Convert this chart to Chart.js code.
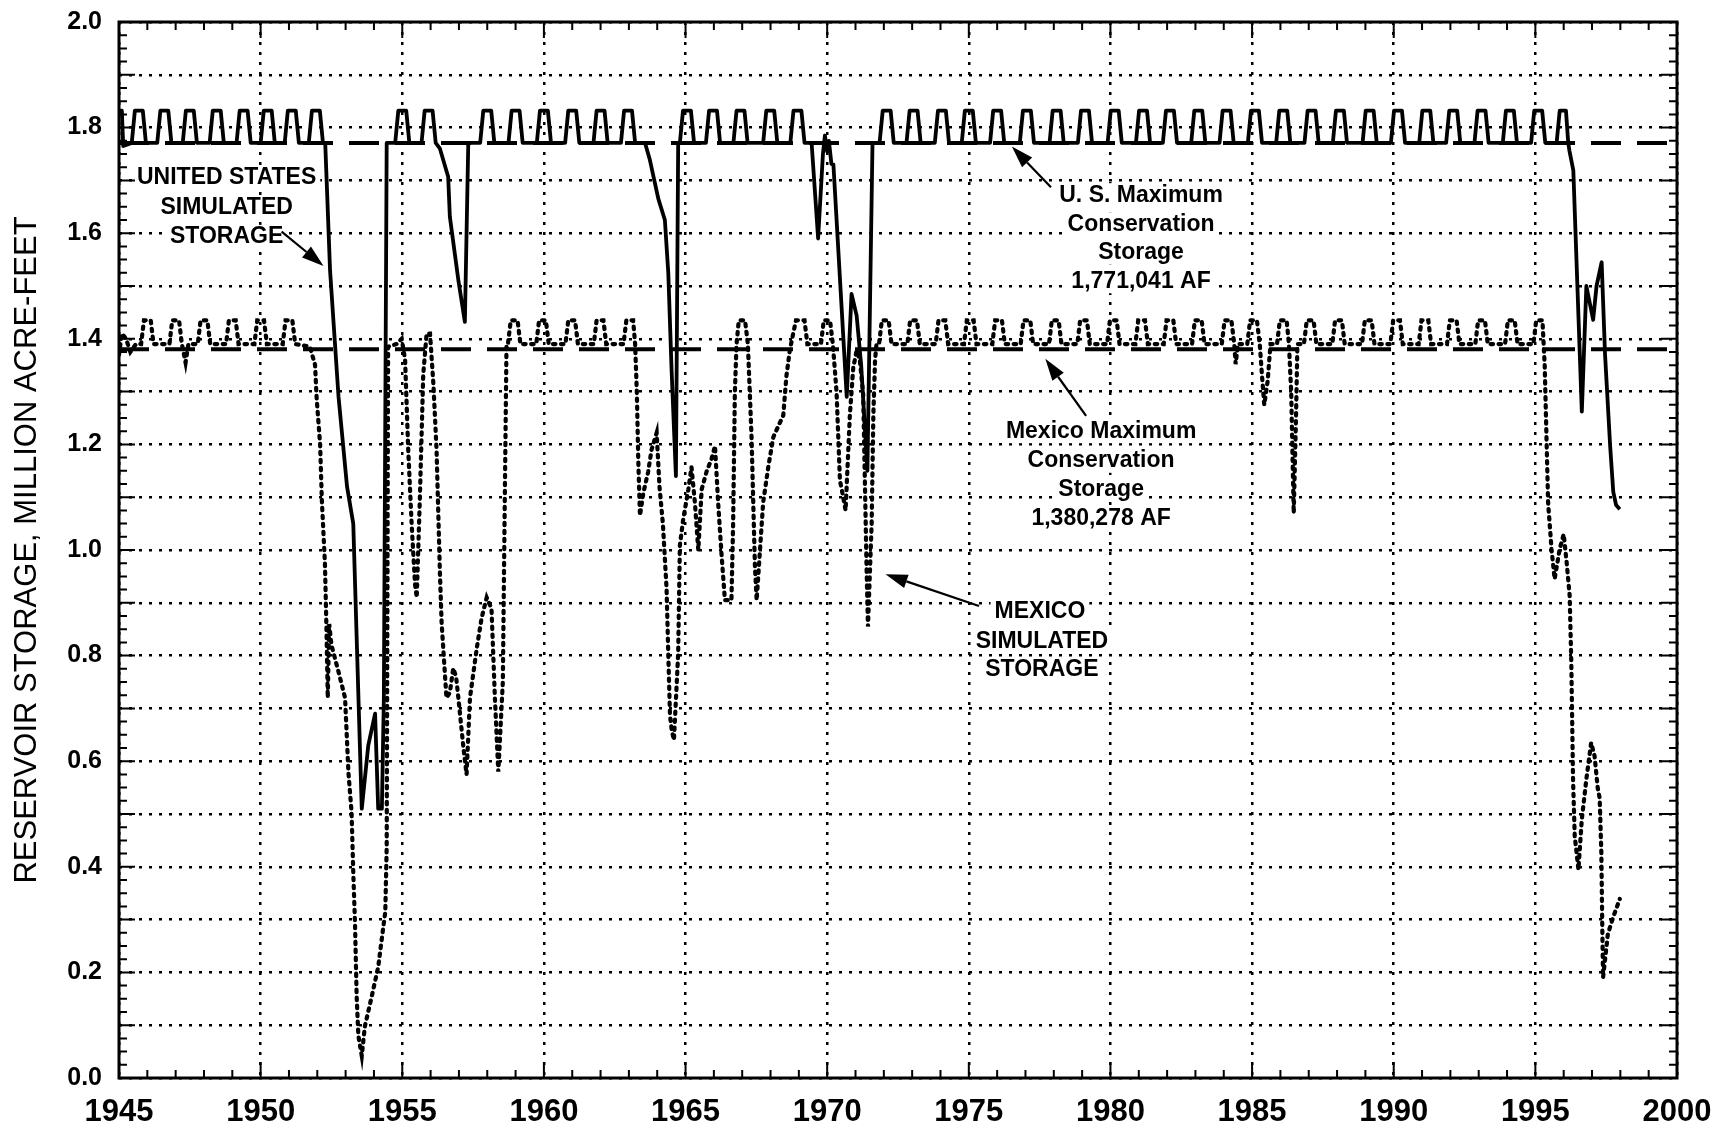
<!DOCTYPE html>
<html lang="en">
<head>
  <meta charset="UTF-8"/>
  <title>Reservoir Storage, Simulated</title>
  <script src="https://cdn.jsdelivr.net/npm/chart.js"></script>
  <style>
    html, body { margin: 0; padding: 0; background: #fff; }
    #wrap { width: 1729px; height: 1130px; }
  </style>
</head>
<body>
  <div id="wrap"><canvas id="chart" width="1729" height="1130"></canvas></div>

  <script>
    // axis ticks
    const yearTicks = [1945, 1950, 1955, 1960, 1965, 1970, 1975, 1980, 1985, 1990, 1995, 2000];
    const storageTicks = [0.0, 0.1, 0.2, 0.3, 0.4, 0.5, 0.6, 0.7, 0.8, 0.9, 1.0,
                          1.1, 1.2, 1.3, 1.4, 1.5, 1.6, 1.7, 1.8, 1.9, 2.0];

    // maximum conservation storage, million acre-feet
    const usMaxStorage = 1.771041;
    const mexicoMaxStorage = 1.380278;

    // [year, million acre-feet]
    const usStorage = [
      [1945.00, 1.832], [1945.10, 1.832], [1945.15, 1.765], [1945.30, 1.768],
      [1945.45, 1.771], [1945.56, 1.832], [1945.84, 1.832], [1945.95, 1.771],
      [1946.35, 1.771], [1946.46, 1.832], [1946.74, 1.832], [1946.85, 1.771],
      [1947.25, 1.771], [1947.36, 1.832], [1947.64, 1.832], [1947.75, 1.771],
      [1948.20, 1.771], [1948.31, 1.832], [1948.59, 1.832], [1948.70, 1.771],
      [1949.15, 1.771], [1949.26, 1.832], [1949.54, 1.832], [1949.65, 1.771],
      [1950.00, 1.771], [1950.11, 1.832], [1950.39, 1.832], [1950.50, 1.771],
      [1950.85, 1.771], [1950.96, 1.832], [1951.24, 1.832], [1951.35, 1.771],
      [1951.70, 1.771], [1951.81, 1.832], [1952.09, 1.832], [1952.20, 1.771],
      [1952.28, 1.771], [1952.45, 1.530], [1952.75, 1.290], [1953.05, 1.120],
      [1953.27, 1.050], [1953.57, 0.510], [1953.80, 0.630], [1954.04, 0.690],
      [1954.15, 0.510], [1954.28, 0.510], [1954.35, 0.720], [1954.45, 1.771],
      [1954.75, 1.771], [1954.86, 1.832], [1955.14, 1.832], [1955.25, 1.771],
      [1955.68, 1.771], [1955.79, 1.832], [1956.07, 1.832], [1956.18, 1.771],
      [1956.33, 1.760], [1956.62, 1.707], [1956.68, 1.631], [1956.98, 1.511],
      [1957.21, 1.432], [1957.33, 1.771],
      [1957.75, 1.771], [1957.86, 1.832], [1958.14, 1.832], [1958.25, 1.771],
      [1958.75, 1.771], [1958.86, 1.832], [1959.14, 1.832], [1959.25, 1.771],
      [1959.75, 1.771], [1959.86, 1.832], [1960.14, 1.832], [1960.25, 1.771],
      [1960.75, 1.771], [1960.86, 1.832], [1961.14, 1.832], [1961.25, 1.771],
      [1961.75, 1.771], [1961.86, 1.832], [1962.14, 1.832], [1962.25, 1.771],
      [1962.72, 1.771], [1962.83, 1.832], [1963.11, 1.832], [1963.22, 1.771],
      [1963.57, 1.771], [1963.74, 1.739], [1964.04, 1.665], [1964.27, 1.625],
      [1964.39, 1.526], [1964.51, 1.337], [1964.66, 1.140], [1964.74, 1.771],
      [1964.80, 1.771], [1964.91, 1.832], [1965.19, 1.832], [1965.30, 1.771],
      [1965.72, 1.771], [1965.83, 1.832], [1966.11, 1.832], [1966.22, 1.771],
      [1966.69, 1.771], [1966.80, 1.832], [1967.08, 1.832], [1967.19, 1.771],
      [1967.74, 1.771], [1967.85, 1.832], [1968.13, 1.832], [1968.24, 1.771],
      [1968.70, 1.771], [1968.81, 1.832], [1969.09, 1.832], [1969.20, 1.771],
      [1969.45, 1.771], [1969.68, 1.590], [1969.85, 1.750], [1969.92, 1.785],
      [1970.00, 1.755], [1970.06, 1.775], [1970.15, 1.731], [1970.22, 1.730],
      [1970.69, 1.290], [1970.86, 1.485], [1971.04, 1.444], [1971.20, 1.350],
      [1971.42, 1.150], [1971.60, 1.771],
      [1971.85, 1.771], [1971.96, 1.832], [1972.24, 1.832], [1972.35, 1.771],
      [1972.80, 1.771], [1972.91, 1.832], [1973.19, 1.832], [1973.30, 1.771],
      [1973.80, 1.771], [1973.91, 1.832], [1974.19, 1.832], [1974.30, 1.771],
      [1974.75, 1.771], [1974.86, 1.832], [1975.14, 1.832], [1975.25, 1.771],
      [1975.75, 1.771], [1975.86, 1.832], [1976.14, 1.832], [1976.25, 1.771],
      [1976.80, 1.771], [1976.91, 1.832], [1977.19, 1.832], [1977.30, 1.771],
      [1977.85, 1.771], [1977.96, 1.832], [1978.24, 1.832], [1978.35, 1.771],
      [1978.85, 1.771], [1978.96, 1.832], [1979.24, 1.832], [1979.35, 1.771],
      [1979.90, 1.771], [1980.01, 1.832], [1980.29, 1.832], [1980.40, 1.771],
      [1980.90, 1.771], [1981.01, 1.832], [1981.29, 1.832], [1981.40, 1.771],
      [1981.85, 1.771], [1981.96, 1.832], [1982.24, 1.832], [1982.35, 1.771],
      [1982.85, 1.771], [1982.96, 1.832], [1983.24, 1.832], [1983.35, 1.771],
      [1983.85, 1.771], [1983.96, 1.832], [1984.24, 1.832], [1984.35, 1.771],
      [1984.85, 1.771], [1984.96, 1.832], [1985.24, 1.832], [1985.35, 1.771],
      [1985.85, 1.771], [1985.96, 1.832], [1986.24, 1.832], [1986.35, 1.771],
      [1986.85, 1.771], [1986.96, 1.832], [1987.24, 1.832], [1987.35, 1.771],
      [1987.85, 1.771], [1987.96, 1.832], [1988.24, 1.832], [1988.35, 1.771],
      [1988.90, 1.771], [1989.01, 1.832], [1989.29, 1.832], [1989.40, 1.771],
      [1989.90, 1.771], [1990.01, 1.832], [1990.29, 1.832], [1990.40, 1.771],
      [1990.90, 1.771], [1991.01, 1.832], [1991.29, 1.832], [1991.40, 1.771],
      [1991.85, 1.771], [1991.96, 1.832], [1992.24, 1.832], [1992.35, 1.771],
      [1992.85, 1.771], [1992.96, 1.832], [1993.24, 1.832], [1993.35, 1.771],
      [1993.85, 1.771], [1993.96, 1.832], [1994.24, 1.832], [1994.35, 1.771],
      [1994.85, 1.771], [1994.96, 1.832], [1995.24, 1.832], [1995.35, 1.771],
      [1995.75, 1.771], [1995.86, 1.832], [1996.08, 1.832], [1996.16, 1.771],
      [1996.20, 1.757], [1996.34, 1.719], [1996.64, 1.262], [1996.80, 1.500],
      [1997.04, 1.436], [1997.16, 1.500], [1997.34, 1.545], [1997.46, 1.370],
      [1997.64, 1.197], [1997.75, 1.110], [1997.85, 1.085], [1997.98, 1.077]
    ];

    const mexicoStorage = [
      [1945.00, 1.370], [1945.10, 1.410], [1945.25, 1.400], [1945.40, 1.375], [1945.60, 1.390],
      [1945.78, 1.390], [1945.88, 1.435], [1946.12, 1.435], [1946.22, 1.390],
      [1946.78, 1.390], [1946.88, 1.435], [1947.12, 1.435], [1947.22, 1.390],
      [1947.35, 1.355], [1947.45, 1.390],
      [1947.78, 1.390], [1947.88, 1.435], [1948.12, 1.435], [1948.22, 1.390],
      [1948.78, 1.390], [1948.88, 1.435], [1949.12, 1.435], [1949.22, 1.390],
      [1949.78, 1.390], [1949.88, 1.435], [1950.12, 1.435], [1950.22, 1.390],
      [1950.78, 1.390], [1950.88, 1.435], [1951.12, 1.435], [1951.22, 1.390],
      [1951.74, 1.385], [1951.92, 1.351], [1951.98, 1.285], [1952.10, 1.200],
      [1952.16, 1.096], [1952.27, 0.974], [1952.32, 0.860], [1952.37, 0.720],
      [1952.42, 0.860], [1952.50, 0.820], [1952.76, 0.767], [1952.98, 0.720],
      [1953.10, 0.578], [1953.21, 0.504], [1953.27, 0.390], [1953.33, 0.295],
      [1953.39, 0.154], [1953.45, 0.080], [1953.57, 0.042], [1953.68, 0.098],
      [1953.92, 0.154], [1954.15, 0.210], [1954.33, 0.286], [1954.40, 0.314],
      [1954.45, 0.437], [1954.50, 1.385],
      [1954.80, 1.390], [1954.98, 1.400], [1955.10, 1.360], [1955.21, 1.190],
      [1955.33, 1.050], [1955.45, 0.936], [1955.51, 0.910], [1955.62, 1.096],
      [1955.74, 1.332], [1955.86, 1.410], [1955.98, 1.410], [1956.10, 1.313],
      [1956.21, 1.190], [1956.33, 0.955], [1956.39, 0.861], [1956.56, 0.720],
      [1956.68, 0.730], [1956.80, 0.776], [1956.90, 0.760], [1956.98, 0.720],
      [1957.16, 0.625], [1957.27, 0.575], [1957.39, 0.720], [1957.63, 0.814],
      [1957.80, 0.871], [1957.98, 0.910], [1958.15, 0.889], [1958.27, 0.720],
      [1958.39, 0.580], [1958.55, 0.750], [1958.62, 1.100], [1958.68, 1.390],
      [1958.73, 1.390], [1958.83, 1.435], [1959.07, 1.435], [1959.17, 1.390],
      [1959.73, 1.390], [1959.83, 1.435], [1960.07, 1.435], [1960.17, 1.390],
      [1960.76, 1.390], [1960.86, 1.435], [1961.10, 1.435], [1961.20, 1.390],
      [1961.76, 1.390], [1961.86, 1.435], [1962.10, 1.435], [1962.20, 1.390],
      [1962.81, 1.390], [1962.91, 1.435], [1963.15, 1.435], [1963.22, 1.390],
      [1963.28, 1.300], [1963.33, 1.173], [1963.39, 1.065], [1963.51, 1.108],
      [1963.68, 1.148], [1963.80, 1.190], [1963.98, 1.222], [1964.08, 1.120],
      [1964.20, 1.050], [1964.33, 0.927], [1964.39, 0.804], [1964.45, 0.688],
      [1964.51, 0.660], [1964.59, 0.640], [1964.74, 0.804], [1964.80, 1.009],
      [1964.92, 1.059], [1965.10, 1.115], [1965.21, 1.157], [1965.33, 1.090],
      [1965.45, 1.000], [1965.57, 1.115], [1965.74, 1.148], [1965.92, 1.173],
      [1966.04, 1.197], [1966.15, 1.090], [1966.27, 0.992], [1966.39, 0.905],
      [1966.62, 0.905], [1966.68, 1.050], [1966.74, 1.296], [1966.80, 1.390],
      [1966.88, 1.435], [1967.10, 1.435], [1967.20, 1.390], [1967.33, 1.214],
      [1967.39, 1.090], [1967.45, 0.968], [1967.51, 0.905], [1967.74, 1.090],
      [1967.92, 1.157], [1968.10, 1.214], [1968.45, 1.255], [1968.56, 1.329],
      [1968.68, 1.378], [1968.80, 1.410], [1968.90, 1.435], [1969.20, 1.435],
      [1969.30, 1.390],
      [1969.78, 1.390], [1969.88, 1.435], [1970.10, 1.435], [1970.20, 1.390],
      [1970.33, 1.300], [1970.45, 1.132], [1970.57, 1.099], [1970.65, 1.075],
      [1970.80, 1.255], [1970.92, 1.345], [1971.04, 1.378], [1971.15, 1.360],
      [1971.27, 1.296], [1971.33, 1.132], [1971.39, 0.968], [1971.44, 0.855],
      [1971.57, 1.050], [1971.63, 1.255], [1971.69, 1.360], [1971.74, 1.390],
      [1971.83, 1.390], [1971.93, 1.435], [1972.17, 1.435], [1972.27, 1.390],
      [1972.83, 1.390], [1972.93, 1.435], [1973.17, 1.435], [1973.27, 1.390],
      [1973.83, 1.390], [1973.93, 1.435], [1974.17, 1.435], [1974.27, 1.390],
      [1974.83, 1.390], [1974.93, 1.435], [1975.17, 1.435], [1975.27, 1.390],
      [1975.83, 1.390], [1975.93, 1.435], [1976.17, 1.435], [1976.27, 1.390],
      [1976.83, 1.390], [1976.93, 1.435], [1977.17, 1.435], [1977.27, 1.390],
      [1977.83, 1.390], [1977.93, 1.435], [1978.17, 1.435], [1978.27, 1.390],
      [1978.83, 1.390], [1978.93, 1.435], [1979.17, 1.435], [1979.27, 1.390],
      [1979.88, 1.390], [1979.98, 1.435], [1980.22, 1.435], [1980.32, 1.390],
      [1980.88, 1.390], [1980.98, 1.435], [1981.22, 1.435], [1981.32, 1.390],
      [1981.88, 1.390], [1981.98, 1.435], [1982.22, 1.435], [1982.32, 1.390],
      [1982.88, 1.390], [1982.98, 1.435], [1983.22, 1.435], [1983.32, 1.390],
      [1983.93, 1.390], [1984.03, 1.435], [1984.27, 1.435], [1984.37, 1.390],
      [1984.42, 1.352], [1984.50, 1.390],
      [1984.83, 1.390], [1984.93, 1.435], [1985.17, 1.435], [1985.27, 1.390],
      [1985.35, 1.330], [1985.43, 1.275], [1985.55, 1.320], [1985.65, 1.390],
      [1985.88, 1.390], [1985.98, 1.435], [1986.22, 1.435], [1986.30, 1.390],
      [1986.38, 1.300], [1986.47, 1.070], [1986.55, 1.250], [1986.60, 1.390],
      [1986.83, 1.390], [1986.93, 1.435], [1987.17, 1.435], [1987.27, 1.390],
      [1987.83, 1.390], [1987.93, 1.435], [1988.17, 1.435], [1988.27, 1.390],
      [1988.88, 1.390], [1988.98, 1.435], [1989.22, 1.435], [1989.32, 1.390],
      [1989.88, 1.390], [1989.98, 1.435], [1990.22, 1.435], [1990.32, 1.390],
      [1990.88, 1.390], [1990.98, 1.435], [1991.22, 1.435], [1991.32, 1.390],
      [1991.88, 1.390], [1991.98, 1.435], [1992.22, 1.435], [1992.32, 1.390],
      [1992.88, 1.390], [1992.98, 1.435], [1993.22, 1.435], [1993.32, 1.390],
      [1993.93, 1.390], [1994.03, 1.435], [1994.27, 1.435], [1994.37, 1.390],
      [1994.93, 1.390], [1995.03, 1.435], [1995.25, 1.435], [1995.33, 1.349],
      [1995.39, 1.219], [1995.45, 1.089], [1995.57, 1.002], [1995.68, 0.945],
      [1995.86, 1.002], [1996.00, 1.030], [1996.10, 0.979], [1996.21, 0.914],
      [1996.27, 0.784], [1996.33, 0.566], [1996.39, 0.458], [1996.52, 0.395],
      [1996.64, 0.490], [1996.80, 0.566], [1996.97, 0.635], [1997.09, 0.610],
      [1997.20, 0.550], [1997.27, 0.530], [1997.33, 0.425], [1997.36, 0.295],
      [1997.39, 0.190], [1997.56, 0.273], [1997.75, 0.305], [1997.98, 0.339]
    ];

    // callout text, placed in data units [year, storage]
    const notes = [
      { text: 'UNITED STATES', at: [1948.80, 1.705] },
      { text: 'SIMULATED', at: [1948.80, 1.648] },
      { text: 'STORAGE', at: [1948.80, 1.593] },
      { text: 'U. S. Maximum', at: [1981.08, 1.672] },
      { text: 'Conservation', at: [1981.08, 1.617] },
      { text: 'Storage', at: [1981.08, 1.563] },
      { text: '1,771,041 AF', at: [1981.08, 1.509] },
      { text: 'Mexico Maximum', at: [1979.67, 1.225] },
      { text: 'Conservation', at: [1979.67, 1.169] },
      { text: 'Storage', at: [1979.67, 1.114] },
      { text: '1,380,278 AF', at: [1979.67, 1.060] },
      { text: 'MEXICO', at: [1977.51, 0.883] },
      { text: 'SIMULATED', at: [1977.58, 0.826] },
      { text: 'STORAGE', at: [1977.58, 0.773] }
    ];
    const arrows = [
      { from: [1950.74, 1.603], to: [1952.22, 1.538] },
      { from: [1977.90, 1.687], to: [1976.52, 1.764] },
      { from: [1979.14, 1.254], to: [1977.70, 1.362] },
      { from: [1975.36, 0.894], to: [1972.06, 0.954] }
    ];

    const FONT = "'Liberation Sans', Arial, Helvetica, sans-serif";

    const asPoints = rows => rows.map(([x, y]) => ({ x, y }));

    function drawArrow(ctx, x1, y1, x2, y2) {
      const ang = Math.atan2(y2 - y1, x2 - x1);
      const len = 22, half = 7;
      const bx = x2 - len * Math.cos(ang), by = y2 - len * Math.sin(ang);
      ctx.beginPath();
      ctx.moveTo(x1, y1);
      ctx.lineTo(bx, by);
      ctx.stroke();
      ctx.beginPath();
      ctx.moveTo(x2, y2);
      ctx.lineTo(bx + half * Math.sin(ang), by - half * Math.cos(ang));
      ctx.lineTo(bx - half * Math.sin(ang), by + half * Math.cos(ang));
      ctx.closePath();
      ctx.fill();
    }

    const notesPlugin = {
      id: 'notes',
      afterDatasetsDraw(chart) {
        const { ctx, scales: { x, y } } = chart;
        ctx.save();
        ctx.font = 'bold 23px ' + FONT;
        ctx.textAlign = 'center';
        ctx.textBaseline = 'middle';
        notes.forEach(n => {
          const px = x.getPixelForValue(n.at[0]);
          const py = y.getPixelForValue(n.at[1]);
          const w = ctx.measureText(n.text).width;
          ctx.fillStyle = '#fff';
          ctx.fillRect(px - w / 2 - 4, py - 12, w + 8, 24);
          ctx.fillStyle = '#000';
          ctx.fillText(n.text, px, py);
        });
        ctx.strokeStyle = '#000';
        ctx.fillStyle = '#000';
        ctx.lineWidth = 2.2;
        arrows.forEach(a => {
          drawArrow(ctx,
            x.getPixelForValue(a.from[0]), y.getPixelForValue(a.from[1]),
            x.getPixelForValue(a.to[0]), y.getPixelForValue(a.to[1]));
        });
        ctx.restore();
      }
    };

    // frame plus the small inward ticks on all four sides
    const framePlugin = {
      id: 'frame',
      afterDraw(chart) {
        const { ctx, chartArea: a, scales: { x, y } } = chart;
        ctx.save();
        ctx.strokeStyle = '#000';
        ctx.lineWidth = 2;
        ctx.beginPath();
        for (let yr = 1945; yr <= 2000; yr++) {
          const px = x.getPixelForValue(yr);
          const len = yr % 5 === 0 ? 16 : 8;
          ctx.moveTo(px, a.bottom); ctx.lineTo(px, a.bottom - len);
          ctx.moveTo(px, a.top); ctx.lineTo(px, a.top + len);
        }
        for (let k = 0; k <= 80; k++) {
          const py = y.getPixelForValue(k * 0.025);
          const len = k % 4 === 0 ? 16 : 8;
          ctx.moveTo(a.left, py); ctx.lineTo(a.left + len, py);
          ctx.moveTo(a.right, py); ctx.lineTo(a.right - len, py);
        }
        ctx.stroke();
        ctx.lineWidth = 3;
        ctx.strokeRect(a.left, a.top, a.right - a.left, a.bottom - a.top);
        ctx.restore();
      }
    };

    new Chart(document.getElementById('chart'), {
      type: 'scatter',
      data: {
        datasets: [
          {
            label: 'U. S. Maximum Conservation Storage',
            data: [{ x: 1945, y: usMaxStorage }, { x: 2000, y: usMaxStorage }],
            showLine: true, borderColor: '#000', borderWidth: 4,
            borderDash: [30, 16], pointRadius: 0
          },
          {
            label: 'Mexico Maximum Conservation Storage',
            data: [{ x: 1945, y: mexicoMaxStorage }, { x: 2000, y: mexicoMaxStorage }],
            showLine: true, borderColor: '#000', borderWidth: 4,
            borderDash: [30, 16], pointRadius: 0
          },
          {
            label: 'United States Simulated Storage',
            data: asPoints(usStorage),
            showLine: true, borderColor: '#000', borderWidth: 3.8,
            borderJoinStyle: 'round', pointRadius: 0
          },
          {
            label: 'Mexico Simulated Storage',
            data: asPoints(mexicoStorage),
            showLine: true, borderColor: '#000', borderWidth: 4.2,
            borderDash: [2.5, 5.5], borderCapStyle: 'round', pointRadius: 0
          }
        ]
      },
      options: {
        responsive: false,
        animation: false,
        devicePixelRatio: 1,
        layout: { padding: { top: 22, right: 52, left: 0, bottom: 0 } },
        plugins: { legend: { display: false }, tooltip: { enabled: false } },
        scales: {
          x: {
            type: 'linear', min: 1945, max: 2000,
            afterBuildTicks: s => { s.ticks = yearTicks.map(v => ({ value: v })); },
            afterFit: s => { s.height = 52; s.paddingLeft = 0; s.paddingRight = 0; },
            ticks: {
              color: '#000', padding: 16, maxRotation: 0, autoSkip: false,
              font: { family: FONT, size: 31, weight: 'bold' },
              callback: v => String(v)
            },
            grid: { color: '#000', lineWidth: 2.5, drawTicks: false },
            border: { display: false, dash: [3, 7] }
          },
          y: {
            type: 'linear', min: 0, max: 2,
            afterBuildTicks: s => { s.ticks = storageTicks.map(v => ({ value: v })); },
            // keep the plot box where the original has it (labels may overhang)
            afterFit: s => { s.width = 119; s.paddingTop = 0; s.paddingBottom = 0; },
            ticks: {
              color: '#000', padding: 17,
              font: { family: FONT, size: 25, weight: 'bold' },
              callback: v => (Math.round(v * 10) % 2 === 0 ? v.toFixed(1) : '')
            },
            grid: { color: '#000', lineWidth: 2.5, drawTicks: false },
            border: { display: false, dash: [3, 7] },
            title: {
              display: true,
              text: 'RESERVOIR STORAGE, MILLION ACRE-FEET',
              color: '#000',
              font: { family: FONT, size: 31, weight: 'normal' },
              padding: { top: 9, bottom: 0 }
            }
          }
        }
      },
      plugins: [notesPlugin, framePlugin]
    });
  </script>
</body>
</html>
